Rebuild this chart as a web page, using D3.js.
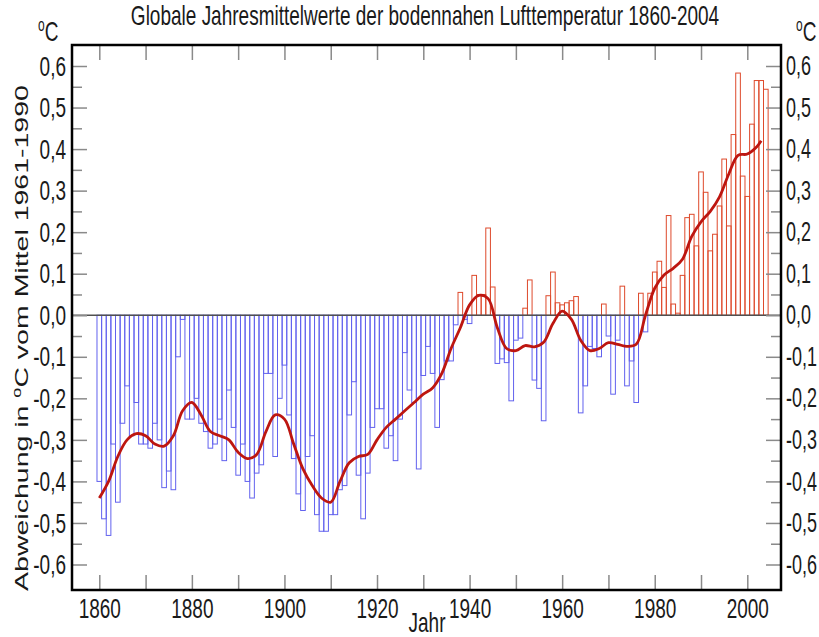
<!DOCTYPE html>
<html>
<head>
<meta charset="utf-8">
<script src="https://cdn.jsdelivr.net/npm/d3@7"></script>
<style>
  body { margin: 0; background: #fff; }
  text { font-family: "Liberation Sans", Arial, sans-serif; fill: #1a1a1a; }
</style>
</head>
<body>
<div id="chart"></div>
<script>
// annual anomalies 1860-2004 (deg C, vs 1961-1990)
var years = d3.range(1860, 2005);
var anomalies = [
  -0.40, -0.49, -0.53, -0.31, -0.45, -0.26, -0.17, -0.29, -0.21, -0.31,
  -0.31, -0.32, -0.26, -0.30, -0.415, -0.375, -0.42, -0.10, -0.01, -0.25,
  -0.25, -0.20, -0.26, -0.28, -0.32, -0.31, -0.25, -0.35, -0.18, -0.27,
  -0.385, -0.31, -0.40, -0.44, -0.38, -0.36, -0.14, -0.14, -0.34, -0.20,
  -0.12, -0.24, -0.345, -0.43, -0.47, -0.34, -0.29, -0.48, -0.52, -0.52,
  -0.48, -0.48, -0.42, -0.41, -0.24, -0.16, -0.385, -0.49, -0.38, -0.27,
  -0.225, -0.225, -0.32, -0.29, -0.35, -0.25, -0.09, -0.18, -0.21, -0.37,
  -0.145, -0.075, -0.14, -0.27, -0.155, -0.11, -0.11, -0.023, 0.055, -0.01,
  -0.02, 0.096, 0.05, 0.05, 0.21, 0.068, -0.116, -0.105, -0.114, -0.206,
  -0.06, -0.055, 0.017, 0.085, -0.156, -0.176, -0.254, 0.047, 0.104, 0.03,
  0.025, 0.03, 0.035, 0.045, -0.235, -0.17, -0.075, -0.08, -0.10, 0.027,
  -0.05, -0.19, -0.06, 0.07, -0.17, -0.11, -0.21, 0.053, -0.04, 0.053,
  0.104, 0.13, 0.067, 0.24, 0.027, 0.005, 0.096, 0.235, 0.243, 0.167,
  0.345, 0.296, 0.155, 0.195, 0.263, 0.376, 0.215, 0.435, 0.583, 0.335,
  0.286, 0.46, 0.565, 0.565, 0.544
];

// smoothed curve
var smoothYears = [1860, 1862, 1864, 1866, 1868, 1870, 1872, 1874, 1876, 1878,
  1880, 1882, 1884, 1886, 1888, 1890, 1892, 1894, 1896, 1898,
  1900, 1902, 1904, 1906, 1908, 1910, 1912, 1914, 1916, 1918,
  1920, 1922, 1924, 1926, 1928, 1930, 1932, 1934, 1936, 1938,
  1940, 1942, 1944, 1946, 1948, 1950, 1952, 1954, 1956, 1958,
  1960, 1962, 1964, 1966, 1968, 1970, 1972, 1974, 1976, 1978,
  1980, 1982, 1984, 1986, 1988, 1990, 1992, 1994, 1996, 1998,
  2000, 2002, 2003];
var smoothValues = [-0.44, -0.40, -0.34, -0.30, -0.285, -0.29, -0.31, -0.315, -0.29, -0.23,
  -0.21, -0.24, -0.28, -0.29, -0.30, -0.33, -0.345, -0.335, -0.28, -0.24,
  -0.25, -0.31, -0.37, -0.41, -0.44, -0.45, -0.40, -0.355, -0.34, -0.335,
  -0.30, -0.27, -0.25, -0.23, -0.21, -0.19, -0.175, -0.14, -0.08, -0.03,
  0.025, 0.048, 0.04, -0.03, -0.08, -0.085, -0.073, -0.076, -0.065, -0.02,
  0.01, -0.01, -0.06, -0.085, -0.08, -0.066, -0.07, -0.075, -0.07, 0.0,
  0.065, 0.097, 0.113, 0.135, 0.19, 0.225, 0.25, 0.285, 0.34, 0.385,
  0.388, 0.405, 0.42];

var decadeTicks = [1860, 1870, 1880, 1890, 1900, 1910, 1920, 1930, 1940, 1950, 1960, 1970, 1980, 1990, 2000];
var yearLabels = [1860, 1880, 1900, 1920, 1940, 1960, 1980, 2000];
var majorTicks = [-0.6, -0.5, -0.4, -0.3, -0.2, -0.1, 0, 0.1, 0.2, 0.3, 0.4, 0.5, 0.6];
var minorTicks = [-0.55, -0.45, -0.35, -0.25, -0.15, -0.05, 0.05, 0.15, 0.25, 0.35, 0.45, 0.55];

var W = 819, H = 637;
var plotLeft = 72, plotRight = 781, plotTop = 45, plotBottom = 590;
var stretch = 1.5;

var de = d3.formatLocale({decimal: ",", thousands: ".", grouping: [3], currency: ["", " €"], minus: "-"});
var fmt = de.format(".1f");

var x = d3.scaleLinear().domain([1860, 2000]).range([99.3, 747.3]);
var y = d3.scaleLinear().domain([-0.6, 0.6]).range([564.5, 66]);
var bw = x(1861) - x(1860);

var svg = d3.select("#chart").append("svg")
    .attr("width", W)
    .attr("height", H);

var data = years.map(function(d, i) { return {year: d, value: anomalies[i]}; });

// bars (outlined only)
svg.append("g").selectAll("rect")
    .data(data)
  .enter().append("rect")
    .attr("x", function(d) { return x(d.year) - bw / 2; })
    .attr("width", bw)
    .attr("y", function(d) { return y(Math.max(0, d.value)); })
    .attr("height", function(d) { return Math.abs(y(d.value) - y(0)); })
    .attr("fill", "none")
    .attr("stroke", function(d) { return d.value < 0 ? "#6262ee" : "#de4a2c"; })
    .attr("stroke-width", 1);

// zero line
svg.append("line")
    .attr("x1", plotLeft).attr("x2", plotRight)
    .attr("y1", y(0)).attr("y2", y(0))
    .attr("stroke", "#505050")
    .attr("stroke-width", 1.6);

// smoothed curve
var smooth = smoothYears.map(function(d, i) { return [d, smoothValues[i]]; });
var line = d3.line()
    .x(function(d) { return x(d[0]); })
    .y(function(d) { return y(d[1]); })
    .curve(d3.curveCatmullRom);

svg.append("path")
    .datum(smooth)
    .attr("fill", "none")
    .attr("stroke", "#bd1610")
    .attr("stroke-width", 2.8)
    .attr("d", line);

// axes
function grey(g) {
  g.select(".domain").remove();
  g.selectAll("line").attr("stroke", "#8a8a8a").attr("stroke-width", 1.5);
  g.selectAll("text")
    .attr("font-size", 19)
    .attr("fill", "#1a1a1a")
    .attr("transform", "scale(1," + stretch + ")");
}

svg.append("g")
    .attr("transform", "translate(" + plotLeft + ",0)")
    .call(d3.axisLeft(y).tickValues(majorTicks).tickSize(-15).tickPadding(6).tickFormat(fmt))
    .call(grey);
svg.append("g")
    .attr("transform", "translate(" + plotLeft + ",0)")
    .call(d3.axisLeft(y).tickValues(minorTicks).tickSize(-10).tickFormat(""))
    .call(grey);
svg.append("g")
    .attr("transform", "translate(" + plotRight + ",0)")
    .call(d3.axisRight(y).tickValues(majorTicks).tickSize(-15).tickPadding(5).tickFormat(fmt))
    .call(grey)
    .selectAll("text").attr("font-size", 18);
svg.append("g")
    .attr("transform", "translate(" + plotRight + ",0)")
    .call(d3.axisRight(y).tickValues(minorTicks).tickSize(-10).tickFormat(""))
    .call(grey);

svg.append("g")
    .attr("transform", "translate(0," + plotBottom + ")")
    .call(d3.axisBottom(x).tickValues(decadeTicks).tickSize(-15).tickPadding(5)
      .tickFormat(function(d) { return yearLabels.indexOf(d) >= 0 ? d3.format("d")(d) : ""; }))
    .call(grey);
svg.append("g")
    .attr("transform", "translate(0," + plotTop + ")")
    .call(d3.axisTop(x).tickValues(decadeTicks).tickSize(-15).tickFormat(""))
    .call(grey);

// frame
svg.append("rect")
    .attr("x", plotLeft).attr("y", plotTop)
    .attr("width", plotRight - plotLeft).attr("height", plotBottom - plotTop)
    .attr("fill", "none")
    .attr("stroke", "#000")
    .attr("stroke-width", 2.5);

// texts
function stretched(xp, yp, anchor) {
  return svg.append("text")
    .attr("transform", "translate(" + xp + "," + yp + ") scale(1," + stretch + ")")
    .attr("text-anchor", anchor)
    .attr("font-size", 19);
}

stretched(425, 25, "middle").text("Globale Jahresmittelwerte der bodennahen Lufttemperatur 1860-2004");
stretched(427, 632, "middle").text("Jahr");

[[38, 41], [796, 41]].forEach(function(p) {
  var t = stretched(p[0], p[1], "start");
  t.append("tspan").attr("font-size", 12).attr("dy", -7).text("o");
  t.append("tspan").attr("dy", 7).text("C");
});

var ylab = svg.append("text")
    .attr("transform", "translate(28,338) rotate(-90) scale(" + stretch + ",1)")
    .attr("text-anchor", "middle")
    .attr("font-size", 19);
ylab.append("tspan").text("Abweichung in ");
ylab.append("tspan").attr("font-size", 12).attr("dy", -7).text("o");
ylab.append("tspan").attr("dy", 7).text("C vom Mittel 1961-1990");
</script>
</body>
</html>
